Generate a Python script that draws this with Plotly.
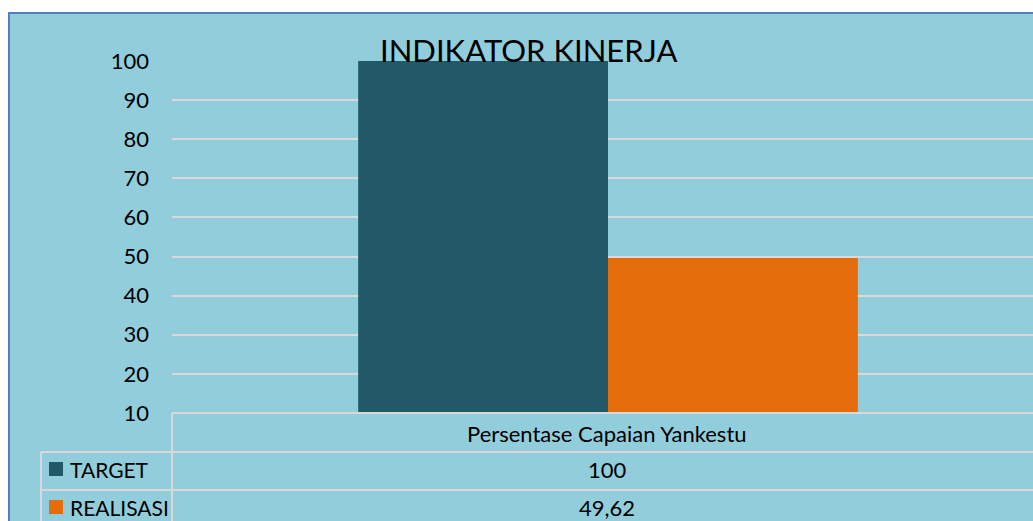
import plotly.graph_objects as go

categories = ["Persentase Capaian Yankestu"]
series_names = ["TARGET", "REALISASI"]
target_values = [100]
realisasi_values = [49.62]
series_colors = ["#215968", "#E46C0A"]
y_ticks = [10, 20, 30, 40, 50, 60, 70, 80, 90, 100]

W, H = 1033, 521
FONT = "Lato"

def px(x):
    return x / W

def py(y):
    return (H - y) / H

fig = go.Figure()
for name, vals, col in zip(series_names, [target_values, realisasi_values], series_colors):
    fig.add_trace(go.Bar(x=categories, y=vals, name=name, marker_color=col,
                         marker_line_width=0, showlegend=False, hoverinfo="skip"))

shapes = []
shapes.append(dict(type="rect", xref="paper", yref="paper", x0=px(9), x1=1.05, y0=-0.1, y1=py(13),
                   fillcolor="#92CDDC", line=dict(color="#4F81BD", width=2), layer="below"))
grid = dict(color="#D9D9D9", width=2)
shapes.append(dict(type="line", xref="paper", yref="paper", x0=px(172), x1=1.05, y0=py(413), y1=py(413), line=grid))
shapes.append(dict(type="line", xref="paper", yref="paper", x0=px(41), x1=1.05, y0=py(452), y1=py(452), line=grid))
shapes.append(dict(type="line", xref="paper", yref="paper", x0=px(41), x1=1.05, y0=py(490), y1=py(490), line=grid))
shapes.append(dict(type="line", xref="paper", yref="paper", x0=px(172), x1=px(172), y0=py(413), y1=-0.1, line=grid))
shapes.append(dict(type="line", xref="paper", yref="paper", x0=px(41), x1=px(41), y0=py(452), y1=-0.1, line=grid))

annotations = []
row_y = [469, 507]
for i, (name, col) in enumerate(zip(series_names, series_colors)):
    yc = row_y[i]
    shapes.append(dict(type="rect", xref="paper", yref="paper", x0=px(49), x1=px(63),
                       y0=py(yc + 7), y1=py(yc - 7), fillcolor=col, line=dict(width=0)))
    annotations.append(dict(text=name, xref="paper", yref="paper", x=px(68), y=py(yc),
                            xanchor="left", yanchor="middle", showarrow=False,
                            font=dict(family=FONT, size=21, color="#000000")))

vals_all = [target_values, realisasi_values]
annotations.append(dict(text=categories[0], xref="paper", yref="paper", x=px(607), y=py(433),
                        xanchor="center", yanchor="middle", showarrow=False,
                        font=dict(family=FONT, size=22, color="#000000")))
for i, vals in enumerate(vals_all):
    v = vals[0]
    txt = (f"{v:g}").replace(".", ",")
    annotations.append(dict(text=txt, xref="paper", yref="paper", x=px(607), y=py(row_y[i]),
                            xanchor="center", yanchor="middle", showarrow=False,
                            font=dict(family=FONT, size=22, color="#000000")))
annotations.append(dict(text="INDIKATOR KINERJA", xref="paper", yref="paper", x=px(528), y=py(50),
                        xanchor="center", yanchor="middle", showarrow=False,
                        font=dict(family=FONT, size=31, color="#000000")))

fig.update_layout(
    width=W, height=H,
    margin=dict(l=0, r=0, t=0, b=0, autoexpand=False),
    paper_bgcolor="#FFFFFF",
    plot_bgcolor="rgba(0,0,0,0)",
    barmode="group", bargap=0.427, bargroupgap=0,
    xaxis=dict(domain=[px(172), 1], range=[-0.5, (1033 - 608) / 872], showticklabels=False,
               showgrid=False, zeroline=False, showline=False, automargin=False),
    yaxis=dict(domain=[py(413), py(61)], range=[10, 100], tickvals=y_ticks,
               showgrid=True, gridcolor="#D9D9D9", gridwidth=2, zeroline=False, showline=False,
               ticklabelstandoff=22, automargin=False,
               tickfont=dict(family=FONT, size=22, color="#000000")),
    shapes=shapes,
    annotations=annotations,
)

fig.write_html("out.html", config={"displayModeBar": False},
               post_script="document.body.style.margin='0';document.body.style.overflow='hidden';")
